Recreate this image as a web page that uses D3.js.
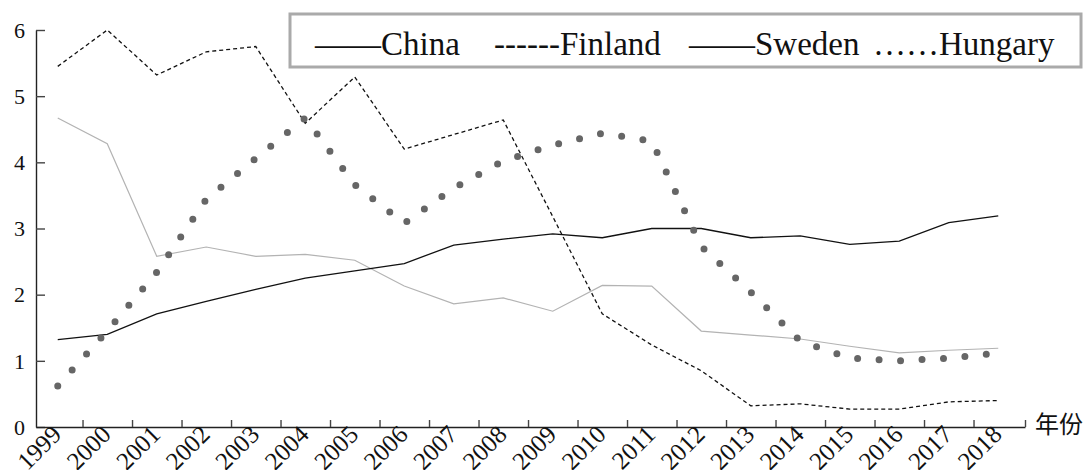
<!DOCTYPE html>
<html>
<head>
<meta charset="utf-8">
<script src="https://cdn.jsdelivr.net/npm/d3@7"></script>
<style>
  body { margin: 0; background: #fff; }
</style>
</head>
<body>
<svg width="1089" height="470"></svg>
<script>
// years on the x axis
var years = ["1999","2000","2001","2002","2003","2004","2005","2006","2007","2008",
             "2009","2010","2011","2012","2013","2014","2015","2016","2017","2018"];

// series values
var china   = [1.32,1.40,1.71,1.90,2.08,2.25,2.36,2.47,2.75,2.84,2.92,2.86,3.00,3.00,2.86,2.89,2.76,2.81,3.09,3.19];
var finland = [5.45,6.00,5.32,5.67,5.75,4.59,5.29,4.20,4.42,4.64,3.18,1.71,1.24,0.85,0.32,0.35,0.27,0.27,0.38,0.40];
var sweden  = [4.67,4.28,2.58,2.72,2.58,2.61,2.52,2.13,1.86,1.95,1.75,2.14,2.13,1.45,1.39,1.33,1.22,1.12,1.16,1.19];
var hungary = [0.62,1.45,2.34,3.44,4.06,4.67,3.66,3.08,3.61,4.02,4.26,4.44,4.32,2.73,2.04,1.30,1.04,1.00,1.04,1.12];

var yTicks = [0,1,2,3,4,5,6];
var legendItems = ['——China', '------Finland', '——Sweden', '……Hungary'];

var SERIF = 'Liberation Serif';

svg = d3.select('svg');

// scales
x = d3.scaleBand().domain(years).range([33, 1023]).padding(0);
// same mapping in "year index" units, used for the tick marks between years
xi = d3.scaleLinear().domain([0.06, 20.04]).range([36, 1025]);
y = d3.scaleLinear().domain([0, 6]).range([427, 30]);

// y axis, ticks pointing inward
yAxis = svg.append('g')
    .attr('transform', 'translate(36,0)')
    .call(d3.axisLeft(y).tickValues(yTicks).tickFormat(d3.format('d'))
        .tickSizeInner(-9).tickSizeOuter(0).tickPadding(11));
yAxis.selectAll('text')
    .style('font-family', SERIF).attr('font-size', 22).attr('fill', '#111')
    .attr('dy', '0.33em');

// x axis: marks between the years, labels on the years
xAxis = svg.append('g')
    .attr('transform', 'translate(0,427)')
    .call(d3.axisBottom(xi).tickValues(d3.range(1, years.length).concat([20.04]))
        .tickSizeInner(-7).tickSizeOuter(0).tickFormat(''));

svg.selectAll('path.domain').attr('stroke', '#222').attr('stroke-width', 1.4);
svg.selectAll('.tick line').attr('stroke', '#444').attr('stroke-width', 1.4);

svg.append('g').selectAll('text.year')
    .data(years)
    .enter().append('text')
    .classed('year', true)
    .attr('text-anchor', 'end')
    .style('font-family', SERIF).attr('font-size', 25).attr('fill', '#111')
    .attr('transform', function(d){ return 'translate(' + (x(d) + x.bandwidth()/2 + 5) + ',436) rotate(-45)'; })
    .text(function(d){ return d; });

svg.append('text')
    .attr('x', 1035).attr('y', 433)
    .style('font-family', 'Noto Sans CJK SC')
    .attr('font-size', 24).attr('fill', '#111')
    .text('年份');

// line generator through the band centres
function line(vals) {
    return d3.line()
        .x(function(d, i){ return x(years[i]) + x.bandwidth()/2; })
        .y(function(d){ return y(d); })(vals);
}

svg.append('path').attr('d', line(sweden))
    .attr('fill', 'none').attr('stroke', '#b3b3b3').attr('stroke-width', 1.2);

svg.append('path').attr('d', line(china))
    .attr('fill', 'none').attr('stroke', '#111').attr('stroke-width', 1.3);

svg.append('path').attr('d', line(finland))
    .attr('fill', 'none').attr('stroke', '#111').attr('stroke-width', 1.3)
    .attr('stroke-dasharray', '4,3');

svg.append('path').attr('d', line(hungary))
    .attr('fill', 'none').attr('stroke', '#666').attr('stroke-width', 7)
    .attr('stroke-linecap', 'round').attr('stroke-dasharray', '0,21.5');

// legend box
legend = svg.append('g');
legend.append('rect')
    .attr('x', 290).attr('y', 14).attr('width', 791).attr('height', 53)
    .attr('fill', '#fff').attr('stroke', '#aaa').attr('stroke-width', 3);

var legendX = [315, 494, 689, 873];
legend.selectAll('text.leg')
    .data(legendItems)
    .enter().append('text')
    .classed('leg', true)
    .attr('x', function(d, i){ return legendX[i]; })
    .attr('y', 55)
    .style('font-family', SERIF)
    .attr('font-size', 33).attr('fill', '#111')
    .text(function(d){ return d; });
</script>
</body>
</html>
